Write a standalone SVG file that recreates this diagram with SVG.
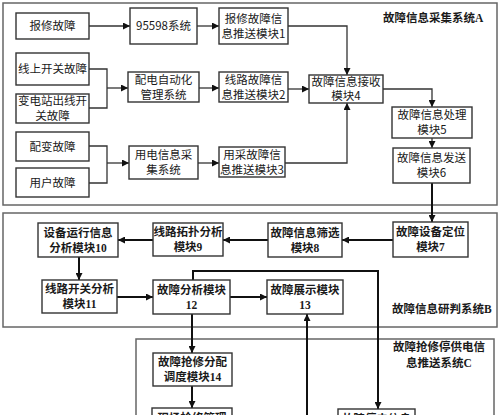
<svg xmlns="http://www.w3.org/2000/svg" width="500" height="415" viewBox="0 0 500 415">
<defs>
<marker id="ah" markerUnits="userSpaceOnUse" markerWidth="8" markerHeight="7" refX="7" refY="3.5" orient="auto">
<path d="M0,0 L7,3.5 L0,7 Z" fill="#111"/>
</marker>
<style>
.sys{fill:none;stroke:#666;stroke-width:1.5}
.box{fill:#fff;stroke:#333;stroke-width:1.4}
.t{font-family:"Noto Sans CJK SC","Liberation Sans",sans-serif;font-size:11.5px;fill:#1a1a1a;text-anchor:middle}
.ts{font-family:"Liberation Serif","Noto Sans CJK SC",serif;font-size:11.5px;fill:#1a1a1a;text-anchor:middle;font-weight:bold}
.title{font-family:"Liberation Serif","Noto Sans CJK SC",serif;font-size:11.5px;fill:#1a1a1a;font-weight:bold}
.c1{fill:none;stroke:#333;stroke-width:1.3}
.c2{fill:none;stroke:#111;stroke-width:2}
</style>
</defs>
<rect x="0" y="0" width="500" height="415" fill="#fff"/>
<g id="systems">
<rect class="sys" x="3" y="3" width="494" height="202"/>
<rect class="sys" x="3" y="213" width="494" height="114"/>
<rect class="sys" x="136" y="339" width="358" height="90"/>
<text class="title" x="383" y="22">故障信息采集系统A</text>
<text class="title" x="392" y="313">故障信息研判系统B</text>
<text class="title" x="439" y="351" text-anchor="middle">故障抢修停供电信</text>
<text class="title" x="439" y="367" text-anchor="middle">息推送系统C</text>
</g>
<g id="connectors">
<path class="c1" d="M89,26 H130" marker-end="url(#ah)"/>
<path class="c1" d="M197,26 H219" marker-end="url(#ah)"/>
<path class="c1" d="M288,26 H347 V75" marker-end="url(#ah)"/>
<path class="c1" d="M89,69 H107 V108 H89"/>
<path class="c1" d="M107,88 H128" marker-end="url(#ah)"/>
<path class="c1" d="M199,88 H219" marker-end="url(#ah)"/>
<path class="c1" d="M288,89 H309" marker-end="url(#ah)"/>
<path class="c1" d="M285,163 H347 V103" marker-end="url(#ah)"/>
<path class="c1" d="M89,146 H107 V183 H89"/>
<path class="c1" d="M107,163 H129" marker-end="url(#ah)"/>
<path class="c1" d="M198,163 H219" marker-end="url(#ah)"/>
<path class="c1" d="M383,89 H432 V107" marker-end="url(#ah)"/>
<path class="c1" d="M432,138 V148" marker-end="url(#ah)"/>
<path class="c2" d="M432,183 V222" marker-end="url(#ah)"/>
<path class="c2" d="M393,240 H342" marker-end="url(#ah)"/>
<path class="c2" d="M268,240 H223" marker-end="url(#ah)"/>
<path class="c2" d="M153,240 H118" marker-end="url(#ah)"/>
<path class="c2" d="M79,257 V280" marker-end="url(#ah)"/>
<path class="c2" d="M117,297 H153" marker-end="url(#ah)"/>
<path class="c2" d="M230,297 H267" marker-end="url(#ah)"/>
<path class="c2" d="M193,280 V271 H378 V409" marker-end="url(#ah)"/>
<path class="c2" d="M192,314 V353" marker-end="url(#ah)"/>
<path class="c2" d="M307,416 V314" marker-end="url(#ah)"/>
<path class="c2" d="M192,386 V408" marker-end="url(#ah)"/>
</g>
<g id="n_baoxiu"><rect class="box" x="16" y="13" width="73" height="26"/><text class="t" x="52.5" y="30">报修故障</text></g>
<g id="n_95598"><rect class="box" x="130" y="8" width="67" height="36"/><text class="t" x="163.5" y="30">95598系统</text></g>
<g id="m1"><rect class="box" x="219" y="8" width="69" height="36"/><text class="t" x="253.5" y="22.5">报修故障信</text><text class="t" x="253.5" y="37.5">息推送模块1</text></g>
<g id="n_xianshang"><rect class="box" x="16" y="53" width="73" height="32"/><text class="t" x="52.5" y="73">线上开关故障</text></g>
<g id="n_biandian"><rect class="box" x="16" y="94" width="73" height="29"/><text class="t" x="52.5" y="105">变电站出线开</text><text class="t" x="52.5" y="120">关故障</text></g>
<g id="n_peidian"><rect class="box" x="128" y="72" width="71" height="30"/><text class="t" x="163.5" y="83.5">配电自动化</text><text class="t" x="163.5" y="98.5">管理系统</text></g>
<g id="m2"><rect class="box" x="219" y="72" width="69" height="30"/><text class="t" x="253.5" y="83.5">线路故障信</text><text class="t" x="253.5" y="98.5">息推送模块2</text></g>
<g id="m4"><rect class="box" x="309" y="75" width="74" height="28"/><text class="t" x="346" y="85.5">故障信息接收</text><text class="t" x="346" y="100">模块4</text></g>
<g id="m5"><rect class="box" x="392" y="107" width="80" height="31"/><text class="t" x="432" y="119">故障信息处理</text><text class="t" x="432" y="134">模块5</text></g>
<g id="m6"><rect class="box" x="393" y="148" width="77" height="35"/><text class="t" x="431.5" y="162">故障信息发送</text><text class="t" x="431.5" y="177">模块6</text></g>
<g id="n_peibian"><rect class="box" x="16" y="132" width="73" height="29"/><text class="t" x="52.5" y="150.5">配变故障</text></g>
<g id="n_yonghu"><rect class="box" x="16" y="168" width="73" height="29"/><text class="t" x="52.5" y="186.5">用户故障</text></g>
<g id="n_yongdian"><rect class="box" x="129" y="146" width="69" height="33"/><text class="t" x="163.5" y="159">用电信息采</text><text class="t" x="163.5" y="174">集系统</text></g>
<g id="m3"><rect class="box" x="219" y="147" width="66" height="30"/><text class="t" x="252" y="158.5">用采故障信</text><text class="t" x="252" y="173.5">息推送模块3</text></g>
<g id="m10"><rect class="box" x="38" y="223" width="80" height="34"/><text class="ts" x="78" y="236.5">设备运行信息</text><text class="ts" x="78" y="251.5">分析模块10</text></g>
<g id="m9"><rect class="box" x="153" y="223" width="70" height="33"/><text class="ts" x="188" y="236">线路拓扑分析</text><text class="ts" x="188" y="251">模块9</text></g>
<g id="m8"><rect class="box" x="268" y="223" width="74" height="34"/><text class="ts" x="305" y="236.5">故障信息筛选</text><text class="ts" x="305" y="251.5">模块8</text></g>
<g id="m7"><rect class="box" x="393" y="222" width="75" height="35"/><text class="ts" x="430.5" y="236">故障设备定位</text><text class="ts" x="430.5" y="251">模块7</text></g>
<g id="m11"><rect class="box" x="42" y="280" width="75" height="33"/><text class="ts" x="79.5" y="293">线路开关分析</text><text class="ts" x="79.5" y="308">模块11</text></g>
<g id="m12"><rect class="box" x="153" y="280" width="77" height="34"/><text class="ts" x="191.5" y="293.5">故障分析模块</text><text class="ts" x="191.5" y="308.5">12</text></g>
<g id="m13"><rect class="box" x="267" y="280" width="76" height="34"/><text class="ts" x="305" y="293.5">故障展示模块</text><text class="ts" x="305" y="308.5">13</text></g>
<g id="m14"><rect class="box" x="153" y="353" width="79" height="33"/><text class="ts" x="192.5" y="366">故障抢修分配</text><text class="ts" x="192.5" y="381">调度模块14</text></g>
<g id="m15"><rect class="box" x="152" y="408" width="80" height="20"/><text class="ts" x="192" y="422">现场抢修管理</text></g>
<g id="m16"><rect class="box" x="338" y="409" width="77" height="20"/><text class="ts" x="376.5" y="423">故障停电信息</text></g>
</svg>
